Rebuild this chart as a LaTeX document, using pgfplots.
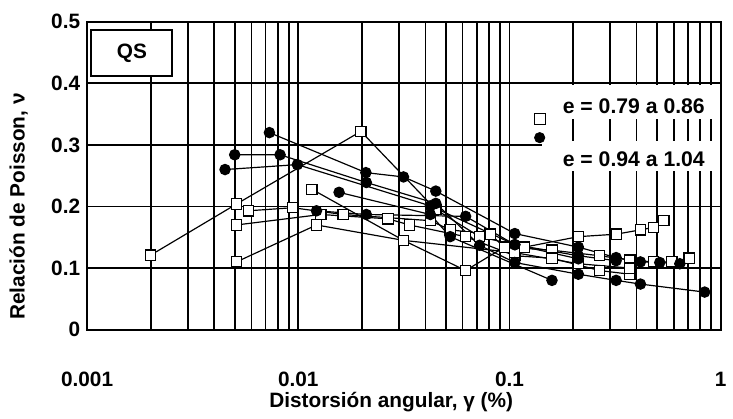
\documentclass[border=0pt]{standalone}
\usepackage{pgfplots}
\pgfplotsset{compat=1.18}
\usepackage{fontspec}
\setmainfont{Liberation Sans}
\begin{document}
\begin{tikzpicture}
\begin{axis}[
  name=ax,
  scale only axis,
  width=320pt, height=155.5pt,
  xmode=log, xmin=0.001, xmax=1, ymin=0, ymax=0.5,
  xtick={0.001,0.01,0.1,1}, xticklabels={0.001,0.01,0.1,1},
  ytick={0,0.1,0.2,0.3,0.4,0.5}, yticklabels={0,0.1,0.2,0.3,0.4,0.5},
  minor ytick={},
  major tick length=0pt, minor tick length=0pt,
  xmajorgrids, xminorgrids, ymajorgrids,
  major grid style={black, line width=0.9pt},
  minor grid style={black, line width=0.9pt},
  axis line style={black, line width=1pt},
  tick label style={font=\fontsize{10.5}{12}\selectfont\bfseries},
  xticklabel style={yshift=-18pt},
  xlabel={Distorsión angular, γ (\%)},
  ylabel={Relación de Poisson, ν},
  label style={font=\fontsize{10.5}{12}\selectfont\bfseries},
  xlabel style={at={(axis description cs:0.48,0)}, anchor=north, yshift=-28pt},
  ylabel style={at={(axis description cs:-0.108,0.40)}, anchor=center},
  legend style={at={(rel axis cs:0.705,0.765)}, anchor=north west, draw=none, fill=none,
    font=\fontsize{10.7}{12}\selectfont\bfseries, row sep=3.5pt, inner sep=0pt},
  legend cell align=left,
  sq/.style={black, line width=0.6pt, mark=square*, mark size=2.6pt, mark options={fill=white, solid}},
  ci/.style={black, line width=0.6pt, mark=*, mark size=2.6pt, mark options={fill=black, solid}},
]
% legend white boxes
\fill[white] (axis cs:0.142,0.258) rectangle (axis cs:0.995,0.307);
\fill[white] (axis cs:0.142,0.342) rectangle (axis cs:0.995,0.397);
% squares e = 0.79 a 0.86
\addplot[sq, forget plot] coordinates {(0.002,0.121) (0.0051,0.204) (0.0198,0.322) (0.0448,0.195) (0.0722,0.151) (0.118,0.134) (0.212,0.151) (0.32,0.155) (0.417,0.162) (0.481,0.166) (0.538,0.177)};
\addplot[sq, forget plot] coordinates {(0.0058,0.193) (0.0094,0.198) (0.0163,0.187) (0.0422,0.177) (0.0524,0.162) (0.081,0.155) (0.0947,0.134) (0.159,0.129) (0.267,0.120) (0.372,0.113) (0.481,0.110) (0.587,0.110) (0.71,0.116)};
\addplot[sq, forget plot] coordinates {(0.0051,0.170) (0.0128,0.187) (0.0266,0.180) (0.0336,0.170) (0.062,0.151) (0.106,0.120) (0.159,0.116) (0.267,0.096) (0.372,0.090)};
\addplot[sq, forget plot] coordinates {(0.0051,0.110) (0.0122,0.170) (0.0315,0.145) (0.106,0.125) (0.212,0.107) (0.372,0.100)};
\addplot[sq, forget plot] coordinates {(0.0116,0.228) (0.0315,0.145) (0.062,0.096) (0.0947,0.134) (0.118,0.134)};
% circles e = 0.94 a 1.04
\addplot[ci, forget plot] coordinates {(0.0073,0.320) (0.0209,0.255) (0.0315,0.248) (0.0448,0.225) (0.106,0.156) (0.212,0.134) (0.32,0.117) (0.417,0.110) (0.515,0.109) (0.641,0.107)};
\addplot[ci, forget plot] coordinates {(0.0050,0.284) (0.0082,0.284) (0.0210,0.239) (0.0448,0.205) (0.0722,0.137) (0.106,0.109) (0.212,0.090) (0.32,0.080) (0.417,0.074) (0.84,0.061)};
\addplot[ci, forget plot] coordinates {(0.0045,0.260) (0.0099,0.268) (0.0422,0.201) (0.106,0.138) (0.212,0.120) (0.32,0.112)};
\addplot[ci, forget plot] coordinates {(0.0156,0.223) (0.0422,0.187) (0.0524,0.151) (0.159,0.080)};
\addplot[ci, forget plot] coordinates {(0.0122,0.193) (0.0210,0.187) (0.062,0.184) (0.106,0.138) (0.212,0.115)};
% legend
\addlegendimage{legend image code/.code={\path[draw=none, fill=none] (0pt,-2pt) rectangle (12pt,2pt);
  \node[draw=black, fill=white, line width=0.6pt, minimum size=5.4pt, inner sep=0pt] at (-0.5pt,-6pt) {};}}
\addlegendentry{e = 0.79 a 0.86}
\addlegendimage{legend image code/.code={\path[draw=none, fill=none] (0pt,-2pt) rectangle (12pt,2pt);
  \node[circle, draw=black, fill=black, minimum size=5.2pt, inner sep=0pt] at (-0.5pt,11.5pt) {};}}
\addlegendentry{e = 0.94 a 1.04}
% QS box
\node[draw=black, fill=white, line width=1pt, minimum width=41pt, minimum height=23.5pt, anchor=north west,
  font=\fontsize{10.5}{12}\selectfont\bfseries] at (rel axis cs:0.005,0.978) {QS};
\end{axis}
\path ([shift={(-44pt,-37.5pt)}]ax.south west) rectangle ([shift={(2.5pt,11pt)}]ax.north east);
\end{tikzpicture}
\end{document}
